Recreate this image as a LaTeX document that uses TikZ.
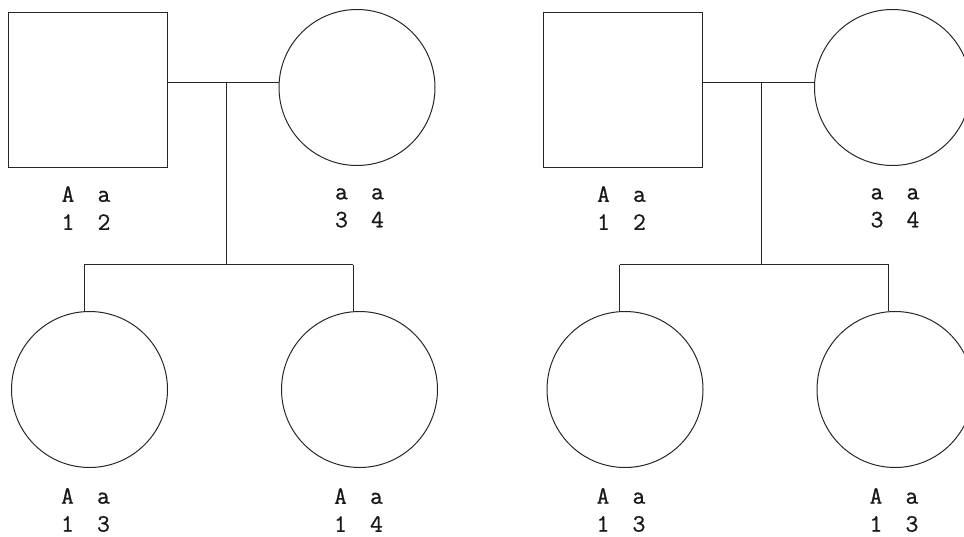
\documentclass[tikz,border=0pt]{standalone}
\usepackage{fontspec}
\newfontfamily\monofont[FakeBold=0.8]{Latin Modern Mono}
\newcommand\gt[2]{\makebox[0pt]{#1}\hspace{36pt}\makebox[0pt]{#2}}
\begin{document}
\begin{tikzpicture}[x=1pt,y=-1pt,
  line width=1pt, draw=black!85,
  male/.style={draw, rectangle, minimum width=159pt, minimum height=155pt, inner sep=0pt},
  female/.style={draw, circle, minimum size=156pt, inner sep=0pt},
  geno/.style={font=\monofont\fontsize{25pt}{28pt}\selectfont, align=center, inner sep=0pt, text=black!90},
  conn/.style={draw=black!85, line width=1pt}]
\useasboundingbox (0,0) rectangle (964,537);
% ---- left pedigree ----
\node[male] (F1) at (87.5,90.5) {};
\node[female] (M1) at (357,87.5) {};
\coordinate (m1) at (226,83);
\coordinate (s1) at (226,265);
\coordinate (s1l) at (84,265);
\coordinate (s1r) at (353,265);
\node[female] (C1) at (89.5,389.5) {};
\node[female] (C2) at (359.5,389.5) {};
\path[conn] (F1.east |- m1) -- (M1.west |- m1);
\path[conn] (m1) -- (s1);
\path[conn] (s1l) -- (s1r);
\path[conn] (s1l) -- (s1l |- C1.north);
\path[conn] (s1r) -- (s1r |- C2.north);
\node[geno] (gF1) at (86,208) {\gt{A}{a}\\\gt{1}{2}};
\node[geno] (gM1) at (359.5,208) {\gt{a}{a}\\\gt{3}{4}};
\node[geno] (gC1) at (85.5,510) {\gt{A}{a}\\\gt{1}{3}};
\node[geno] (gC2) at (358.5,510) {\gt{A}{a}\\\gt{1}{4}};
% ---- right pedigree ----
\begin{scope}[xshift=535.5pt]
\node[male] (F2) at (87.5,90.5) {};
\node[female] (M2) at (357,87.5) {};
\coordinate (m2) at (226,83);
\coordinate (s2) at (226,265);
\coordinate (s2l) at (84,265);
\coordinate (s2r) at (353,265);
\node[female] (C3) at (89.5,389.5) {};
\node[female] (C4) at (359.5,389.5) {};
\path[conn] (F2.east |- m2) -- (M2.west |- m2);
\path[conn] (m2) -- (s2);
\path[conn] (s2l) -- (s2r);
\path[conn] (s2l) -- (s2l |- C3.north);
\path[conn] (s2r) -- (s2r |- C4.north);
\node[geno] (gF2) at (86,208) {\gt{A}{a}\\\gt{1}{2}};
\node[geno] (gM2) at (359.5,208) {\gt{a}{a}\\\gt{3}{4}};
\node[geno] (gC3) at (85.5,510) {\gt{A}{a}\\\gt{1}{3}};
\node[geno] (gC4) at (358.5,510) {\gt{A}{a}\\\gt{1}{3}};
\end{scope}
\end{tikzpicture}
\end{document}
